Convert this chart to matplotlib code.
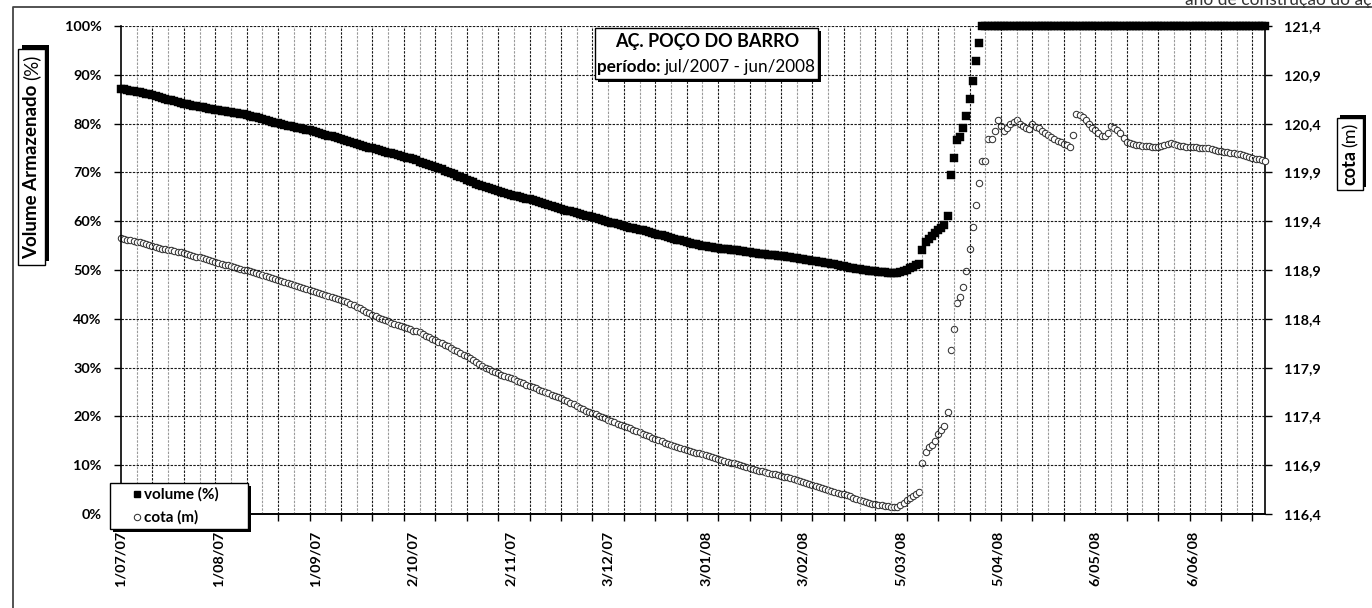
import datetime as dt
import matplotlib
matplotlib.use("Agg")
import matplotlib.pyplot as plt
import matplotlib.dates as mdates
from matplotlib.patches import Rectangle
from matplotlib.lines import Line2D

plt.rcParams['font.family'] = ['Lato', 'DejaVu Sans']

# ---------------- data (daily, from 1/07/2007) ----------------
start_date = "2007-07-01"

volume_pct = [
    87.1, 87.0, 86.9, 86.7, 86.6, 86.5, 86.4, 86.2, 86.1, 86.0,
    85.8, 85.6, 85.5, 85.3, 85.1, 84.9, 84.8, 84.6, 84.4, 84.2,
    84.1, 84.0, 83.8, 83.7, 83.6, 83.4, 83.3, 83.2, 83.0, 82.9,
    82.8, 82.7, 82.6, 82.5, 82.4, 82.3, 82.2, 82.1, 82.0, 81.9,
    81.8, 81.6, 81.4, 81.3, 81.1, 80.9, 80.8, 80.6, 80.4, 80.2,
    80.1, 79.9, 79.8, 79.6, 79.5, 79.3, 79.2, 79.0, 78.9, 78.7,
    78.6, 78.4, 78.2, 78.1, 77.9, 77.7, 77.5, 77.4, 77.2, 77.0,
    76.9, 76.7, 76.5, 76.3, 76.1, 75.9, 75.7, 75.5, 75.3, 75.1,
    74.9, 74.7, 74.6, 74.4, 74.2, 74.0, 73.9, 73.7, 73.5, 73.4,
    73.2, 73.0, 72.9, 72.7, 72.5, 72.2, 72.0, 71.8, 71.5, 71.3,
    71.1, 70.8, 70.6, 70.3, 70.1, 69.8, 69.6, 69.3, 69.0, 68.8,
    68.5, 68.3, 68.0, 67.7, 67.5, 67.2, 67.0, 66.8, 66.6, 66.4,
    66.2, 66.0, 65.8, 65.6, 65.4, 65.2, 65.1, 64.9, 64.8, 64.6,
    64.5, 64.3, 64.1, 63.9, 63.7, 63.5, 63.3, 63.1, 62.9, 62.7,
    62.5, 62.3, 62.1, 62.0, 61.8, 61.6, 61.5, 61.3, 61.1, 61.0,
    60.8, 60.6, 60.5, 60.3, 60.1, 59.9, 59.7, 59.6, 59.4, 59.2,
    59.1, 58.9, 58.7, 58.6, 58.4, 58.2, 58.1, 57.9, 57.7, 57.5,
    57.4, 57.2, 57.1, 56.9, 56.7, 56.6, 56.4, 56.2, 56.1, 55.9,
    55.8, 55.6, 55.4, 55.3, 55.2, 55.0, 54.9, 54.8, 54.7, 54.6,
    54.5, 54.4, 54.3, 54.3, 54.2, 54.1, 54.0, 53.9, 53.8, 53.7,
    53.6, 53.5, 53.4, 53.3, 53.3, 53.2, 53.1, 53.0, 53.0, 52.9,
    52.8, 52.8, 52.7, 52.6, 52.5, 52.4, 52.3, 52.2, 52.1, 52.0,
    51.9, 51.8, 51.7, 51.6, 51.5, 51.4, 51.3, 51.2, 51.1, 50.9,
    50.8, 50.7, 50.5, 50.4, 50.3, 50.2, 50.0, 49.9, 49.8, 49.7,
    49.7, 49.6, 49.5, 49.5, 49.4, 49.4, 49.3, 49.3, 49.5, 49.8,
    50.1, 50.4, 50.7, 51.0, 51.2,
    54.2, 55.8, 56.3, 56.9, 57.5, 58.1, 58.7, 59.3, 61.0,
    69.5, 73.0, 76.6, 77.3, 79.1, 81.5, 85.0, 88.8, 92.8, 96.6,
    100, 100, 100, 100, 100, 100, 100, 100, 100, 100,
    100, 100, 100, 100, 100, 100, 100, 100, 100, 100,
    100, 100, 100, 100, 100, 100, 100, 100, 100, 100,
    100, 100, 100, 100, 100, 100, 100, 100, 100, 100,
    100, 100, 100, 100, 100, 100, 100, 100, 100, 100,
    100, 100, 100, 100, 100, 100, 100, 100, 100, 100,
    100, 100, 100, 100, 100, 100, 100, 100, 100, 100,
    100, 100, 100, 100, 100, 100, 100, 100, 100, 100,
    100, 100, 100, 100, 100, 100, 100, 100, 100, 100,
    100,
]

cota_m = [
    119.23, 119.22, 119.21, 119.21, 119.20, 119.19, 119.19, 119.18, 119.17, 119.16,
    119.15, 119.14, 119.13, 119.12, 119.12, 119.11, 119.10, 119.09, 119.08, 119.08,
    119.07, 119.06, 119.05, 119.04, 119.03, 119.03, 119.02, 119.01, 119.00, 118.99,
    118.98, 118.97, 118.96, 118.95, 118.95, 118.94, 118.93, 118.92, 118.91, 118.90,
    118.90, 118.89, 118.88, 118.87, 118.86, 118.85, 118.84, 118.83, 118.82, 118.81,
    118.80, 118.79, 118.78, 118.77, 118.76, 118.75, 118.74, 118.73, 118.72, 118.71,
    118.69, 118.68, 118.67, 118.66, 118.65, 118.64, 118.63, 118.62, 118.61, 118.60,
    118.59, 118.58, 118.57, 118.55, 118.54, 118.52, 118.51, 118.49, 118.47, 118.46,
    118.44, 118.43, 118.41, 118.40, 118.39, 118.38, 118.36, 118.35, 118.34, 118.33,
    118.32, 118.31, 118.30, 118.28, 118.27, 118.26, 118.24, 118.22, 118.21, 118.19,
    118.18, 118.16, 118.15, 118.13, 118.12, 118.10, 118.08, 118.07, 118.05, 118.03,
    118.02, 118.00, 117.98, 117.96, 117.94, 117.92, 117.90, 117.89, 117.87, 117.85,
    117.84, 117.82, 117.81, 117.80, 117.79, 117.78, 117.76, 117.75, 117.74, 117.72,
    117.71, 117.70, 117.69, 117.67, 117.66, 117.65, 117.64, 117.62, 117.61, 117.60,
    117.59, 117.57, 117.56, 117.54, 117.53, 117.51, 117.49, 117.48, 117.46, 117.45,
    117.43, 117.42, 117.40, 117.39, 117.38, 117.36, 117.35, 117.34, 117.32, 117.31,
    117.30, 117.29, 117.28, 117.26, 117.25, 117.24, 117.22, 117.21, 117.20, 117.18,
    117.17, 117.16, 117.15, 117.13, 117.12, 117.11, 117.10, 117.09, 117.08, 117.07,
    117.06, 117.05, 117.04, 117.03, 117.02, 117.01, 117.00, 116.99, 116.98, 116.97,
    116.96, 116.95, 116.94, 116.93, 116.92, 116.92, 116.91, 116.90, 116.89, 116.88,
    116.87, 116.86, 116.85, 116.84, 116.84, 116.83, 116.82, 116.81, 116.81, 116.80,
    116.79, 116.78, 116.78, 116.77, 116.76, 116.75, 116.74, 116.73, 116.72, 116.71,
    116.70, 116.69, 116.68, 116.67, 116.66, 116.65, 116.64, 116.63, 116.62, 116.61,
    116.60, 116.59, 116.58, 116.56, 116.55, 116.54, 116.53, 116.52, 116.51, 116.50,
    116.50, 116.49, 116.49, 116.48, 116.48, 116.47, 116.47, 116.47, 116.49, 116.51,
    116.54, 116.56, 116.58, 116.61, 116.63,
    116.92, 117.04, 117.09, 117.11, 117.15, 117.22, 117.26, 117.30, 117.45,
    118.08, 118.30, 118.56, 118.62, 118.73, 118.89, 119.12, 119.34, 119.57, 119.79,
    120.02, 120.02, 120.24, 120.24, 120.32, 120.44, 120.38, 120.32, 120.35, 120.40,
    120.42, 120.44, 120.40, 120.38, 120.36, 120.34, 120.40, 120.37, 120.35, 120.32,
    120.30, 120.28, 120.26, 120.24, 120.22, 120.21, 120.19, 120.18, 120.16, 120.28,
    120.50, 120.49, 120.47, 120.44, 120.40, 120.36, 120.33, 120.30, 120.27, 120.27,
    120.30, 120.38, 120.35, 120.33, 120.30, 120.25, 120.21, 120.20, 120.19, 120.18,
    120.18, 120.17, 120.17, 120.17, 120.16, 120.16, 120.16, 120.17, 120.18, 120.19,
    120.20, 120.19, 120.18, 120.17, 120.17, 120.16, 120.16, 120.16, 120.16, 120.15,
    120.15, 120.15, 120.15, 120.14, 120.13, 120.12, 120.12, 120.11, 120.11, 120.10,
    120.10, 120.09, 120.09, 120.08, 120.07, 120.06, 120.05, 120.04, 120.04, 120.03,
    120.02,
]

x_labels = ["1/07/07", "1/08/07", "1/09/07", "2/10/07", "2/11/07", "3/12/07",
            "3/01/08", "3/02/08", "5/03/08", "5/04/08", "6/05/08", "6/06/08"]
vol_ticks = [0, 10, 20, 30, 40, 50, 60, 70, 80, 90, 100]
cota_ticks = [116.4, 116.9, 117.4, 117.9, 118.4, 118.9, 119.4, 119.9, 120.4, 120.9, 121.4]

title_line1 = "AÇ. POÇO DO BARRO"
title_line2 = [("período:", 'bold'), ("jul/2007 - jun/2008", 'normal')]
left_label = [("Volume Armazenado", 'bold'), ("(%)", 'normal')]
right_label = [("cota", 'bold'), ("(m)", 'normal')]
legend_labels = ["volume (%)", "cota (m)"]
top_note = "ano de construção do açude"

# ---------------- derived ----------------
t0 = dt.datetime.strptime(start_date, "%Y-%m-%d")
dates = [t0 + dt.timedelta(days=i) for i in range(len(cota_m))]
xnum = mdates.date2num(dates)
label_pos = mdates.date2num([dt.datetime.strptime(s, "%d/%m/%y") for s in x_labels])
x_min = mdates.date2num(t0)
x_max = x_min + 364

W, H = 1372, 608
fig = plt.figure(figsize=(W / 100, H / 100), dpi=100)


def fx(px):
    return px / W


def fy(py):
    return 1 - py / H


ax = fig.add_axes([fx(121), fy(514), fx(1265) - fx(121), fy(26) - fy(514)])
ax2 = ax.twinx()

ax.set_xlim(x_min, x_max)
ax.set_ylim(0, 100)
ax2.set_ylim(116.4, 121.4)

dark = '#1a1a1a'
grey = '#9a9a9a'
dash = (0, (2.2, 1.2))
# vertical grid: dark every 10 days, grey in between
for k in range(1, 37):
    ax.axvline(x_min + 10 * k, color=dark, lw=0.8, ls=dash, zorder=1)
for k in range(0, 37):
    ax.axvline(x_min + 5 + 10 * k, color=grey, lw=0.8, ls=dash, zorder=1)
for v in vol_ticks[1:]:
    ax.axhline(v, color=dark, lw=0.8, ls=dash, zorder=1)

# data
ax2.plot(xnum, cota_m, ls='none', marker='o', ms=4.6, mfc='white',
         mec='#333333', mew=0.75, clip_on=False, zorder=3)
ax.plot(xnum, volume_pct, ls='none', marker='s', ms=5.3, mfc='black',
        mec='black', mew=0.3, clip_on=False, zorder=4)
ax.set_zorder(ax2.get_zorder() + 1)
ax.patch.set_visible(False)

# ticks
ax.set_yticks(vol_ticks)
ax.set_yticklabels([f"{v}%" for v in vol_ticks])
ax2.set_yticks(cota_ticks)
ax2.set_yticklabels([f"{v:.1f}".replace('.', ',') for v in cota_ticks])
ax.set_xticks(label_pos)
ax.set_xticklabels(x_labels, rotation=90, va='top', ha='center')
ax.set_xticks([x_min + 10 * k for k in range(0, 37)], minor=True)
ax.tick_params(axis='x', which='major', length=0, pad=12, labelsize=10.4)
ax.tick_params(axis='x', which='minor', length=5, width=1, direction='out', color='black')
ax.tick_params(axis='y', length=5, width=1, direction='out', pad=9, labelsize=10.4)
ax2.tick_params(axis='y', length=5, width=1, direction='out', pad=9, labelsize=10.4)
for lab in ax.get_xticklabels() + ax.get_yticklabels() + ax2.get_yticklabels():
    lab.set_fontweight('bold')

for a in (ax, ax2):
    a.spines['top'].set_visible(False)
    for s in ('left', 'right', 'bottom'):
        a.spines[s].set_linewidth(1.2)
        a.spines[s].set_color('black')
ax2.spines['left'].set_visible(False)
ax.spines['right'].set_visible(False)


def shadow_box(x0, y0, x1, y1, ox, oy):
    fig.add_artist(Rectangle((fx(x0 + ox), fy(y1 + oy)), fx(x1) - fx(x0), fy(y0) - fy(y1),
                             transform=fig.transFigure, facecolor='black',
                             edgecolor='black', lw=0, zorder=10))
    fig.add_artist(Rectangle((fx(x0), fy(y1)), fx(x1) - fx(x0), fy(y0) - fy(y1),
                             transform=fig.transFigure, facecolor='white',
                             edgecolor='black', lw=1.0, zorder=11))


renderer = fig.canvas.get_renderer()


def rich_text(cx, base, parts, size, gap, rotation=0):
    """Place text pieces of mixed weight one after another, centred on cx
    (along the reading direction), with their baseline at base (px)."""
    arts, lens = [], []
    for s, w in parts:
        t = fig.text(0, 0, s, fontsize=size, fontweight=w, rotation=rotation,
                     rotation_mode='anchor', ha='left', va='baseline', zorder=12)
        bb = t.get_window_extent(renderer=renderer)
        lens.append(bb.width if rotation == 0 else bb.height)
        arts.append(t)
    total = sum(lens) + gap * (len(parts) - 1)
    pos = -total / 2
    for t, L in zip(arts, lens):
        if rotation == 0:
            t.set_position((fx(cx + pos), fy(base)))
        else:
            t.set_position((fx(base), fy(cx - pos)))
        pos += L + gap


# outer frame
fig.add_artist(Line2D([fx(13), fx(13), fx(1372)], [fy(608), fy(7), fy(7)],
                      transform=fig.transFigure, color='#444444', lw=1.3))
fig.text(fx(1185), fy(4.5), top_note, fontsize=12.5, color='#333333',
         ha='left', va='baseline')

# title box
shadow_box(595, 28, 818, 79, 3, 3)
fig.text(fx(707), fy(42), title_line1, fontsize=13, fontweight='bold',
         ha='center', va='center', zorder=12)
rich_text(706, 72, title_line2, 12.3, 4)

# left axis label box
shadow_box(18, 49, 45, 265, 4, -4)
rich_text(157, 37.5, left_label, 13.5, 4, rotation=90)

# right axis label box
shadow_box(1337, 118, 1363, 190, 3, -3)
rich_text(154, 1355.5, right_label, 13, 3, rotation=90)

# legend box
shadow_box(110, 483, 248, 529, 3, 3)
fig.add_artist(Line2D([fx(137)], [fy(494)], transform=fig.transFigure, ls='none',
                      marker='s', ms=4.4, mfc='black', mec='black', zorder=12))
fig.add_artist(Line2D([fx(137)], [fy(517)], transform=fig.transFigure, ls='none',
                      marker='o', ms=4.6, mfc='white', mec='#333333', mew=0.75, zorder=12))
fig.text(fx(144), fy(494), legend_labels[0], fontsize=11, fontweight='bold',
         ha='left', va='center', zorder=12)
fig.text(fx(144), fy(517), legend_labels[1], fontsize=11, fontweight='bold',
         ha='left', va='center', zorder=12)

fig.savefig("out.png", dpi=100)
